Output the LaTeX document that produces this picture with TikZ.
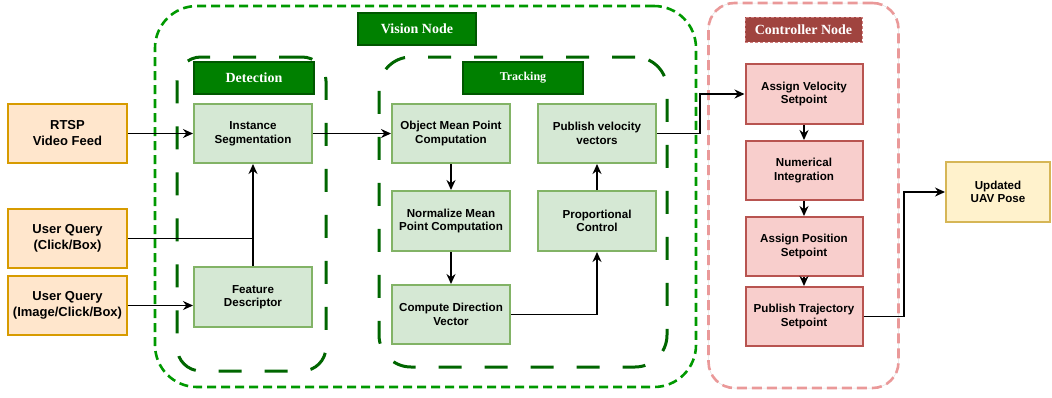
\documentclass[tikz,border=0pt]{standalone}
\usepackage{fontspec}
\setmainfont{Liberation Serif}
\setsansfont{Liberation Sans}
\usetikzlibrary{arrows.meta}
\definecolor{inFill}{HTML}{FFE6CC}
\definecolor{inDraw}{HTML}{D79B00}
\definecolor{gFill}{HTML}{D5E8D4}
\definecolor{gDraw}{HTML}{82B366}
\definecolor{rFill}{HTML}{F8CECC}
\definecolor{rDraw}{HTML}{B85450}
\definecolor{yFill}{HTML}{FFF2CC}
\definecolor{yDraw}{HTML}{D6B656}
\definecolor{visGreen}{HTML}{009900}
\definecolor{subGreen}{HTML}{006600}
\definecolor{lblGreen}{HTML}{008000}
\definecolor{lblGreenD}{HTML}{005700}
\definecolor{ctrlPink}{HTML}{EA9999}
\definecolor{ctrlLbl}{HTML}{A0443F}
\definecolor{ctrlLblD}{HTML}{D08080}
\tikzset{
  x=1pt, y=-1pt,
  box/.style={rectangle, line width=2pt, align=center, inner sep=1pt,
    font=\sffamily\bfseries\fontsize{11.6}{13.5}\selectfont},
  inbox/.style={box, fill=inFill, draw=inDraw, minimum width=119pt, minimum height=59pt,
    font=\sffamily\bfseries\fontsize{13}{16}\selectfont},
  gbox/.style={box, fill=gFill, draw=gDraw, minimum width=118pt, minimum height=59pt},
  rbox/.style={box, fill=rFill, draw=rDraw, minimum width=117pt, minimum height=59pt},
  ybox/.style={box, fill=yFill, draw=yDraw, minimum width=104pt, minimum height=60pt,
    font=\sffamily\bfseries\fontsize{11.6}{13.5}\selectfont},
  lbl/.style={rectangle, fill=lblGreen, draw=lblGreenD, line width=2pt, text=white,
    font=\rmfamily\bfseries\fontsize{14}{16}\selectfont},
  arr/.style={-{Stealth[length=10pt,width=9pt]}, line width=1.5pt, black},
  ln/.style={line width=1.5pt, black},
}
\begin{document}
\begin{tikzpicture}
\useasboundingbox (0,0) rectangle (1052,397);

% containers
\node[draw=visGreen, line width=2.6pt, dash pattern=on 9pt off 5pt, rounded corners=42pt,
  minimum width=541pt, minimum height=381pt] (vision) at (425.5,196.5) {};
\node[draw=subGreen, line width=3pt, dash pattern=on 23pt off 23pt, rounded corners=24pt,
  minimum width=149pt, minimum height=314pt] (detect) at (251.5,214) {};
\node[draw=subGreen, line width=3pt, dash pattern=on 23pt off 23pt, rounded corners=32pt,
  minimum width=288pt, minimum height=310pt] (track) at (523,212) {};
\node[draw=black!12, line width=0.5pt, rounded corners=26pt,
  minimum width=190pt, minimum height=385pt] (ctrlbg) at (803.5,195.5) {};
\node[draw=ctrlPink, line width=2.6pt, dash pattern=on 10pt off 5pt, rounded corners=26pt,
  minimum width=190pt, minimum height=385pt] (ctrl) at (803.5,195.5) {};

% labels
\node[lbl, minimum width=118pt, minimum height=32pt] (visionlbl) at (417,29) {Vision Node};
\node[lbl, minimum width=120pt, minimum height=32pt] (detectlbl) at (254,78) {Detection};
\node[lbl, minimum width=120pt, minimum height=32pt,
  font=\rmfamily\bfseries\fontsize{12}{14}\selectfont] (tracklbl) at (523,78) {Tracking};
\node[rectangle, fill=ctrlLbl, draw=ctrlLblD, line width=1pt, dash pattern=on 3pt off 2pt,
  text=white, font=\rmfamily\bfseries\fontsize{14}{16}\selectfont,
  minimum width=117pt, minimum height=25pt] (ctrllbl) at (803.5,29.5) {Controller Node};

% inputs
\node[inbox] (rtsp) at (67.5,133.5) {RTSP\\Video Feed};
\node[inbox] (uq1) at (67.5,238.5) {User Query\\(Click/Box)};
\node[inbox] (uq2) at (67.5,305.5) {User Query\\(Image/Click/Box)};

% detection
\node[gbox] (inst) at (253,133.5) {Instance\\Segmentation};
\node[gbox, minimum height=60pt] (feat) at (253,297) {Feature\\Descriptor};

% tracking
\node[gbox] (obj) at (451,133.5) {Object Mean Point\\Computation};
\node[gbox, minimum height=60pt] (norm) at (451,221) {Normalize Mean\\Point Computation};
\node[gbox] (comp) at (451,314.5) {Compute Direction\\Vector};
\node[gbox] (pub) at (597,133.5) {Publish velocity\\vectors};
\node[gbox, minimum height=60pt] (prop) at (597,221) {Proportional\\Control};

% controller
\node[rbox, minimum height=60pt] (av) at (804,94) {Assign Velocity\\Setpoint};
\node[rbox] (ni) at (804,170.5) {Numerical\\Integration};
\node[rbox] (ap) at (804,246.5) {Assign Position\\Setpoint};
\node[rbox] (pt) at (804,316.5) {Publish Trajectory\\Setpoint};

\node[ybox] (upd) at (998,192) {Updated\\UAV Pose};

% connectors
\draw[arr] (rtsp.east) -- (inst.west);
\draw[arr] (uq1.east) -| (inst.south);
\draw[ln] (feat.north) -- (feat.north |- uq1.east);
\draw[arr] (uq2.east) -- (feat.west |- uq2.east);
\draw[arr] (inst.east) -- (obj.west);
\draw[arr] (obj.south) -- (norm.north);
\draw[arr] (norm.south) -- (comp.north);
\draw[arr] (comp.east) -| (prop.south);
\draw[arr] (prop.north) -- (pub.south);
\coordinate (j1) at (700,133.5);
\draw[arr] (pub.east) -- (j1) |- (av.west);
\draw[arr] (av.south) -- (ni.north);
\draw[arr] (ni.south) -- (ap.north);
\draw[arr] (ap.south) -- (pt.north);
\coordinate (j2) at (904,316.5);
\draw[arr] (pt.east) -- (j2) |- (upd.west);
\end{tikzpicture}
\end{document}
